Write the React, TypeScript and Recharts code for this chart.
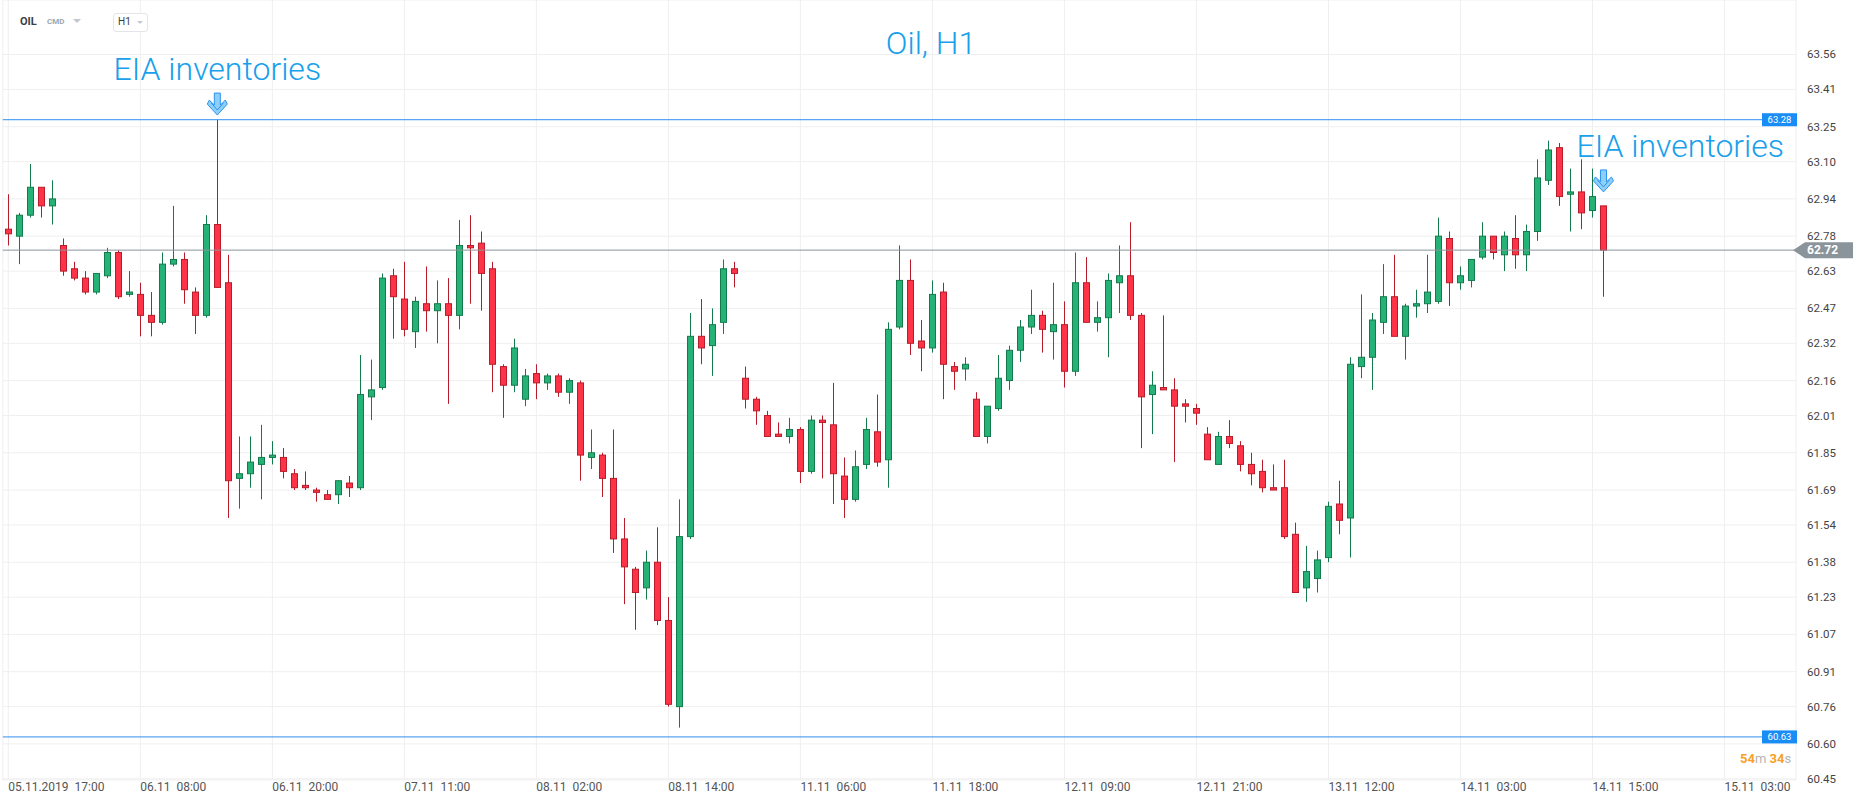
import React from 'react';
import { ComposedChart, Bar, XAxis, YAxis, CartesianGrid, ReferenceLine, ReferenceDot } from 'recharts';

// ---- data (hourly candles, OIL H1) ----
const opens = [
  62.81, 62.78, 62.87, 62.99, 62.91, 62.74, 62.64, 62.60, 62.54, 62.61, 62.71, 62.53, 62.53, 62.44, 62.41, 62.66, 62.68, 62.54, 62.44, 62.83,
  62.58, 61.74, 61.76, 61.80, 61.83, 61.83, 61.76, 61.71, 61.69, 61.67, 61.67, 61.72, 61.70, 62.09, 62.13, 62.61, 62.51, 62.37, 62.49, 62.46,
  62.49, 62.44, 62.74, 62.75, 62.64, 62.22, 62.14, 62.08, 62.19, 62.15, 62.18, 62.11, 62.15, 61.83, 61.84, 61.74, 61.48, 61.35, 61.27, 61.38,
  61.13, 60.76, 61.49, 62.35, 62.31, 62.41, 62.64, 62.17, 62.08, 62.01, 61.93, 61.92, 61.95, 61.77, 61.99, 61.97, 61.75, 61.65, 61.80, 61.94,
  61.82, 62.39, 62.59, 62.33, 62.30, 62.54, 62.22, 62.21, 62.08, 61.92, 62.04, 62.16, 62.29, 62.39, 62.44, 62.37, 62.40, 62.20, 62.58, 62.41,
  62.43, 62.58, 62.61, 62.44, 62.10, 62.13, 62.12, 62.06, 62.04, 61.93, 61.80, 61.92, 61.88, 61.80, 61.77, 61.70, 61.70, 61.50, 61.27, 61.31,
  61.40, 61.63, 61.57, 62.22, 62.26, 62.41, 62.52, 62.35, 62.48, 62.49, 62.50, 62.77, 62.58, 62.59, 62.69, 62.78, 62.70, 62.77, 62.70, 62.80,
  63.02, 63.16, 62.96, 62.97, 62.89, 62.91,
];
const highs = [
  62.96, 62.88, 63.09, 62.99, 63.02, 62.77, 62.67, 62.63, 62.62, 62.73, 62.72, 62.63, 62.58, 62.54, 62.71, 62.91, 62.71, 62.56, 62.87, 63.28,
  62.70, 61.92, 61.92, 61.97, 61.90, 61.87, 61.78, 61.77, 61.70, 61.69, 61.73, 61.75, 62.27, 62.25, 62.62, 62.64, 62.67, 62.52, 62.65, 62.59,
  62.60, 62.85, 62.87, 62.80, 62.67, 62.23, 62.34, 62.21, 62.23, 62.19, 62.19, 62.17, 62.16, 61.95, 61.85, 61.95, 61.57, 61.36, 61.43, 61.53,
  61.23, 61.65, 62.45, 62.51, 62.47, 62.68, 62.67, 62.22, 62.09, 62.03, 61.98, 62.00, 61.96, 62.01, 62.01, 62.15, 61.83, 61.86, 62.00, 62.10,
  62.41, 62.74, 62.68, 62.42, 62.59, 62.58, 62.24, 62.26, 62.11, 62.05, 62.27, 62.31, 62.42, 62.55, 62.46, 62.58, 62.50, 62.71, 62.69, 62.50,
  62.62, 62.74, 62.84, 62.45, 62.20, 62.44, 62.17, 62.08, 62.06, 61.96, 61.94, 61.99, 61.90, 61.85, 61.82, 61.80, 61.82, 61.55, 61.45, 61.43,
  61.64, 61.73, 62.26, 62.53, 62.45, 62.66, 62.70, 62.49, 62.55, 62.70, 62.86, 62.80, 62.65, 62.68, 62.84, 62.78, 62.80, 62.87, 62.83, 63.11,
  63.19, 63.18, 63.07, 63.11, 63.07, 62.91,
];
const lows = [
  62.74, 62.66, 62.86, 62.86, 62.83, 62.61, 62.59, 62.53, 62.53, 62.60, 62.51, 62.52, 62.35, 62.35, 62.40, 62.65, 62.49, 62.36, 62.43, 62.56,
  61.57, 61.61, 61.70, 61.65, 61.80, 61.74, 61.69, 61.69, 61.64, 61.65, 61.63, 61.66, 61.69, 61.99, 62.12, 62.34, 62.35, 62.30, 62.37, 62.32,
  62.06, 62.38, 62.49, 62.46, 62.11, 62.00, 62.11, 62.05, 62.08, 62.12, 62.09, 62.06, 61.73, 61.78, 61.66, 61.42, 61.20, 61.09, 61.22, 61.11,
  60.76, 60.67, 61.48, 62.23, 62.18, 62.36, 62.56, 62.04, 61.97, 61.92, 61.92, 61.89, 61.72, 61.76, 61.74, 61.63, 61.57, 61.64, 61.78, 61.79,
  61.70, 62.38, 62.27, 62.20, 62.28, 62.08, 62.12, 62.16, 61.92, 61.89, 62.03, 62.12, 62.24, 62.36, 62.28, 62.25, 62.13, 62.18, 62.41, 62.37,
  62.26, 62.45, 62.42, 61.87, 61.93, 62.12, 61.81, 61.98, 61.97, 61.82, 61.80, 61.87, 61.77, 61.71, 61.68, 61.69, 61.48, 61.25, 61.21, 61.25,
  61.38, 61.50, 61.40, 62.17, 62.12, 62.36, 62.35, 62.25, 62.43, 62.45, 62.49, 62.48, 62.55, 62.56, 62.68, 62.68, 62.63, 62.64, 62.63, 62.76,
  63.00, 62.91, 62.80, 62.81, 62.86, 62.52,
];
const closes = [
  62.79, 62.87, 62.99, 62.91, 62.94, 62.63, 62.60, 62.54, 62.62, 62.71, 62.52, 62.54, 62.44, 62.41, 62.66, 62.68, 62.55, 62.44, 62.83, 62.56,
  61.73, 61.76, 61.81, 61.83, 61.84, 61.77, 61.70, 61.70, 61.68, 61.65, 61.73, 61.70, 62.10, 62.12, 62.60, 62.52, 62.38, 62.50, 62.46, 62.49,
  62.44, 62.74, 62.73, 62.62, 62.23, 62.14, 62.30, 62.18, 62.15, 62.18, 62.11, 62.16, 61.84, 61.85, 61.74, 61.48, 61.36, 61.25, 61.38, 61.13,
  60.77, 61.49, 62.35, 62.30, 62.40, 62.64, 62.62, 62.08, 62.03, 61.92, 61.92, 61.95, 61.77, 61.99, 61.98, 61.76, 61.65, 61.79, 61.95, 61.81,
  62.38, 62.59, 62.32, 62.30, 62.53, 62.23, 62.20, 62.23, 61.92, 62.05, 62.17, 62.29, 62.39, 62.44, 62.38, 62.40, 62.20, 62.58, 62.41, 62.43,
  62.59, 62.61, 62.44, 62.09, 62.14, 62.12, 62.05, 62.05, 62.02, 61.82, 61.92, 61.89, 61.80, 61.76, 61.70, 61.69, 61.49, 61.25, 61.34, 61.39,
  61.62, 61.56, 62.23, 62.26, 62.42, 62.52, 62.35, 62.48, 62.49, 62.54, 62.78, 62.58, 62.61, 62.68, 62.78, 62.71, 62.78, 62.70, 62.80, 63.03,
  63.15, 62.95, 62.97, 62.88, 62.95, 62.72,
];
const futureSlots = 17;
const xTickEvery = 12;
const xTickLabels = [
  '05.11.2019  17:00', '06.11  08:00', '06.11  20:00', '07.11  11:00', '08.11  02:00', '08.11  14:00', '11.11  06:00',
  '11.11  18:00', '12.11  09:00', '12.11  21:00', '13.11  12:00', '14.11  03:00', '14.11  15:00', '15.11  03:00',
];
const yTicks = [
  63.56, 63.41, 63.25, 63.10, 62.94, 62.78, 62.63, 62.47, 62.32, 62.16, 62.01, 61.85, 61.69, 61.54, 61.38, 61.23,
  61.07, 60.91, 60.76, 60.60, 60.45,
];
const yDomain = [60.445, 63.794];
const levelLines = [63.28, 60.63];
const lastPrice = 62.72;
const eiaIndex = [19, 145];
const eiaTip = [63.30, 62.97];
const eiaText = ['EIA inventories', 'EIA inventories'];

const data = Array.from({ length: opens.length + futureSlots }, (_, i) =>
  i < opens.length
    ? { idx: i, open: opens[i], high: highs[i], low: lows[i], close: closes[i] }
    : { idx: i }
);

const GREEN = '#26b276';
const GREEN_LINE = '#137a4c';
const RED = '#ff3347';
const RED_LINE = '#b71c2b';
const BLUE = '#18a0ec';
const FONT = 'Roboto, "Liberation Sans", Arial, sans-serif';

const Candle = (props: any) => {
  const { x, y, width, height, payload } = props;
  if (!payload || payload.open == null) return null;
  const { open, close, high, low } = payload;
  const up = close >= open;
  const yT = Math.min(y, y + height);
  const h = Math.abs(height);
  const range = high - low;
  const toY = (v: number) => (range === 0 ? yT : yT + ((high - v) / range) * h);
  const top = toY(Math.max(open, close));
  const bot = toY(Math.min(open, close));
  const bx = Math.round(x) + 0.5;
  const bw = Math.round(width) - 1;
  const cx = bx + bw / 2;
  const stroke = up ? GREEN_LINE : RED_LINE;
  return (
    <g>
      <line x1={cx} x2={cx} y1={yT} y2={yT + h} stroke={stroke} strokeWidth={1} />
      <rect x={bx} y={top} width={bw} height={Math.max(bot - top, 1)} fill={up ? GREEN : RED} stroke={stroke} strokeWidth={1} />
    </g>
  );
};

const XTick = (props: any) => {
  const { x, y, payload } = props;
  const label = xTickLabels[payload.value / xTickEvery];
  if (label == null) return null;
  return (
    <text x={x} y={y + 11} textAnchor="start" fill="#555" fontSize={12} fontFamily={FONT} style={{ whiteSpace: 'pre' }}>
      {label}
    </text>
  );
};

const YTick = (props: any) => {
  const { x, y, payload } = props;
  return (
    <text x={x + 11} y={y} dy={4} textAnchor="start" fill="#444" fontSize={11.5} fontFamily={FONT}>
      {payload.value.toFixed(2)}
    </text>
  );
};

const BlueTag = (props: any) => {
  const { viewBox, value } = props;
  const right = viewBox.x + viewBox.width;
  const yy = viewBox.y;
  return (
    <g>
      <rect x={right - 34} y={yy - 6.5} width={35} height={13} fill="#1a8cf5" />
      <text x={right - 16.5} y={yy + 3.5} textAnchor="middle" fill="#fff" fontSize={9.5} fontFamily={FONT}>
        {value.toFixed(2)}
      </text>
    </g>
  );
};

const GreyTag = (props: any) => {
  const { viewBox, value } = props;
  const right = viewBox.x + viewBox.width;
  const yy = viewBox.y;
  const pts = `${right - 3},${yy} ${right + 9},${yy - 8} ${right + 57},${yy - 8} ${right + 57},${yy + 8} ${right + 9},${yy + 8}`;
  return (
    <g>
      <polygon points={pts} fill="#8a949b" />
      <text x={right + 11} y={yy + 4} textAnchor="start" fill="#fff" fontSize={12} fontWeight="bold" fontFamily={FONT}>
        {value.toFixed(2)}
      </text>
    </g>
  );
};

const makeEiaShape = (text: string, anchor: 'middle' | 'start', dx: number) => (props: any) => {
  const { cx, cy } = props;
  const a = `M ${cx - 3} ${cy - 22} L ${cx + 3} ${cy - 22} L ${cx + 3} ${cy - 10} L ${cx + 8} ${cy - 15} L ${cx + 10} ${cy - 11} L ${cx} ${cy} L ${cx - 10} ${cy - 11} L ${cx - 8} ${cy - 15} L ${cx - 3} ${cy - 10} Z`;
  return (
    <g>
      <path d={a} fill="#8ecffa" stroke="#2a93ee" strokeWidth={1} />
      <path d={`M ${cx - 6} ${cy - 12} L ${cx} ${cy - 5} L ${cx + 6} ${cy - 12}`} fill="none" stroke="#2a93ee" strokeWidth={1} />
      <text x={cx + dx} y={cy - 35} textAnchor={anchor} fill={BLUE} fontSize={32} fontWeight={300} fontFamily={FONT}>
        {text}
      </text>
    </g>
  );
};

export default function App() {
  return (
    <div style={{ position: 'absolute', left: 0, top: 0, width: 1866, height: 805, background: '#fff', overflow: 'hidden' }}>
      <ComposedChart width={1866} height={805} data={data} margin={{ top: 0, right: 0, bottom: 0, left: 2.8 }}>
        <CartesianGrid stroke="#efefef" />
        <XAxis
          dataKey="idx"
          type="category"
          interval={xTickEvery - 1}
          tickLine={false}
          axisLine={false}
          tickSize={0}
          tickMargin={0}
          height={25}
          tick={<XTick />}
        />
        <YAxis
          orientation="right"
          width={70}
          domain={yDomain}
          allowDataOverflow
          ticks={yTicks}
          tickLine={false}
          axisLine={false}
          tickSize={0}
          tickMargin={0}
          tick={<YTick />}
        />
        <ReferenceLine y={lastPrice} stroke="#8a949b" strokeWidth={1} label={<GreyTag value={lastPrice} />} />
        {levelLines.map((v) => (
          <ReferenceLine key={v} y={v} stroke="#2e8ff0" strokeWidth={1} label={<BlueTag value={v} />} />
        ))}
        <Bar
          dataKey={(d: any) => (d.low != null ? [d.low, d.high] : null)}
          barSize={7}
          shape={<Candle />}
          isAnimationActive={false}
        />
        {eiaIndex.map((ix, k) => (
          <ReferenceDot
            key={ix}
            x={ix}
            y={eiaTip[k]}
            r={0}
            shape={makeEiaShape(eiaText[k], k === 0 ? 'middle' : 'start', k === 0 ? 0 : -27)}
          />
        ))}
      </ComposedChart>

      {/* header + title overlay */}
      <div style={{ position: 'absolute', left: 0, top: 0, width: 1866, height: 805, pointerEvents: 'none', fontFamily: FONT }}>
        <div style={{ position: 'absolute', left: 20, top: 15, fontSize: 11, fontWeight: 700, color: '#3b4046' }}>OIL</div>
        <div style={{ position: 'absolute', left: 47, top: 17, fontSize: 8, fontWeight: 700, color: '#9aa6b2' }}>CMD</div>
        <div style={{ position: 'absolute', left: 73, top: 19, width: 0, height: 0, borderLeft: '4px solid transparent', borderRight: '4px solid transparent', borderTop: '4px solid #c3c8cd' }} />
        <div style={{ position: 'absolute', left: 113, top: 13, width: 33, height: 17, border: '1px solid #e3e5e8', borderRadius: 3, background: '#fff' }}>
          <div style={{ position: 'absolute', left: 4, top: 2, fontSize: 10, color: '#3b4046' }}>H1</div>
          <div style={{ position: 'absolute', left: 23, top: 7, width: 0, height: 0, borderLeft: '3.5px solid transparent', borderRight: '3.5px solid transparent', borderTop: '3.5px solid #c3c8cd' }} />
        </div>
        <svg width={1866} height={805} style={{ position: 'absolute', left: 0, top: 0 }}>
          <text x={931} y={54} textAnchor="middle" fill={BLUE} fontSize={32} fontWeight={300} fontFamily={FONT}>Oil, H1</text>
        </svg>
        <div style={{ position: 'absolute', left: 1740, top: 751, fontSize: 13, whiteSpace: 'pre' }}>
          <span style={{ color: '#f7a128', fontWeight: 700 }}>54</span>
          <span style={{ color: '#b5b5b5' }}>m </span>
          <span style={{ color: '#f7a128', fontWeight: 700 }}>34</span>
          <span style={{ color: '#b5b5b5' }}>s</span>
        </div>
      </div>
    </div>
  );
}
